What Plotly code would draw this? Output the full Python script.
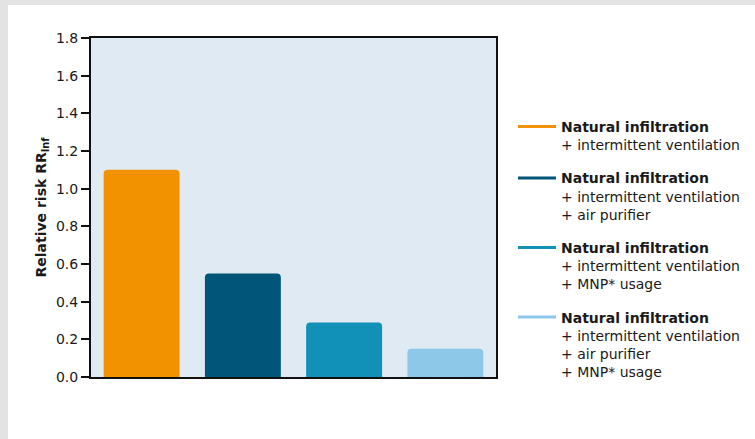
import plotly.graph_objects as go

categories = ["A", "B", "C", "D"]
values = [1.10, 0.55, 0.29, 0.15]
colors = ["#f39200", "#005579", "#1190b8", "#8ec8e8"]
legend_labels = [
    "<b>Natural infiltration</b><br>+ intermittent ventilation",
    "<b>Natural infiltration</b><br>+ intermittent ventilation<br>+ air purifier",
    "<b>Natural infiltration</b><br>+ intermittent ventilation<br>+ MNP* usage",
    "<b>Natural infiltration</b><br>+ intermittent ventilation<br>+ air purifier<br>+ MNP* usage",
]
y_ticks = [0.0, 0.2, 0.4, 0.6, 0.8, 1.0, 1.2, 1.4, 1.6, 1.8]

FONT = "DejaVu Sans"
W, H = 755, 439
L, R, T, B = 91, 259, 38, 62
pw, ph = W - L - R, H - T - B
GREY = "#e3e3e3"

fig = go.Figure()
fig.add_trace(go.Bar(
    x=categories, y=values, marker=dict(color=colors, line=dict(width=0), cornerradius=4),
    width=0.75, showlegend=False, hoverinfo="y",
))
for i, (lab, col) in enumerate(zip(legend_labels, colors)):
    fig.add_trace(go.Scatter(
        x=[None], y=[None], mode="lines", line=dict(color=col, width=3),
        name=lab, legendgroup=f"g{i}", showlegend=True,
    ))

fig.update_layout(
    width=W, height=H,
    margin=dict(l=L, r=R, t=T, b=B, pad=0, autoexpand=False),
    paper_bgcolor="white",
    plot_bgcolor="#e0eaf3",
    font=dict(family=FONT, size=14, color="#1a1a1a"),
    bargap=0.25,
    showlegend=True,
    legend=dict(
        x=(513 - L) / pw, y=0.785, xanchor="left", yanchor="top",
        valign="top", tracegroupgap=12, itemwidth=38,
        font=dict(family=FONT, size=14, color="#1a1a1a"),
        bgcolor="rgba(0,0,0,0)",
    ),
    xaxis=dict(
        showticklabels=False, ticks="", showline=True, linecolor="#111", linewidth=2,
        mirror=True, showgrid=False, zeroline=False,
    ),
    yaxis=dict(
        range=[0, 1.8], tickvals=y_ticks, ticktext=[f"{v:.1f}" for v in y_ticks],
        ticks="outside", ticklen=8, tickwidth=2, tickcolor="#111",
        showline=True, linecolor="#111", linewidth=2, mirror=True,
        showgrid=False, zeroline=False, automargin=False,
        tickfont=dict(family=FONT, size=14, color="#1a1a1a"),
        title=dict(text="<b>Relative risk RR<sub>Inf</sub></b>", standoff=6,
                   font=dict(family=FONT, size=14, color="#1a1a1a")),
    ),
    shapes=[
        dict(type="rect", xref="paper", yref="paper", layer="below",
             x0=-L / pw - 0.01, x1=(W - L) / pw + 0.01,
             y0=(H - B - 5) / ph, y1=(H - B) / ph + 0.01,
             fillcolor=GREY, line=dict(width=0)),
        dict(type="rect", xref="paper", yref="paper", layer="below",
             x0=-L / pw - 0.01, x1=(8 - L) / pw,
             y0=-0.5, y1=(H - B) / ph + 0.01,
             fillcolor=GREY, line=dict(width=0)),
    ],
)

fig.write_html("out.html", config={"displayModeBar": False},
               post_script="document.body.style.margin='0';document.body.style.overflow='hidden';")
